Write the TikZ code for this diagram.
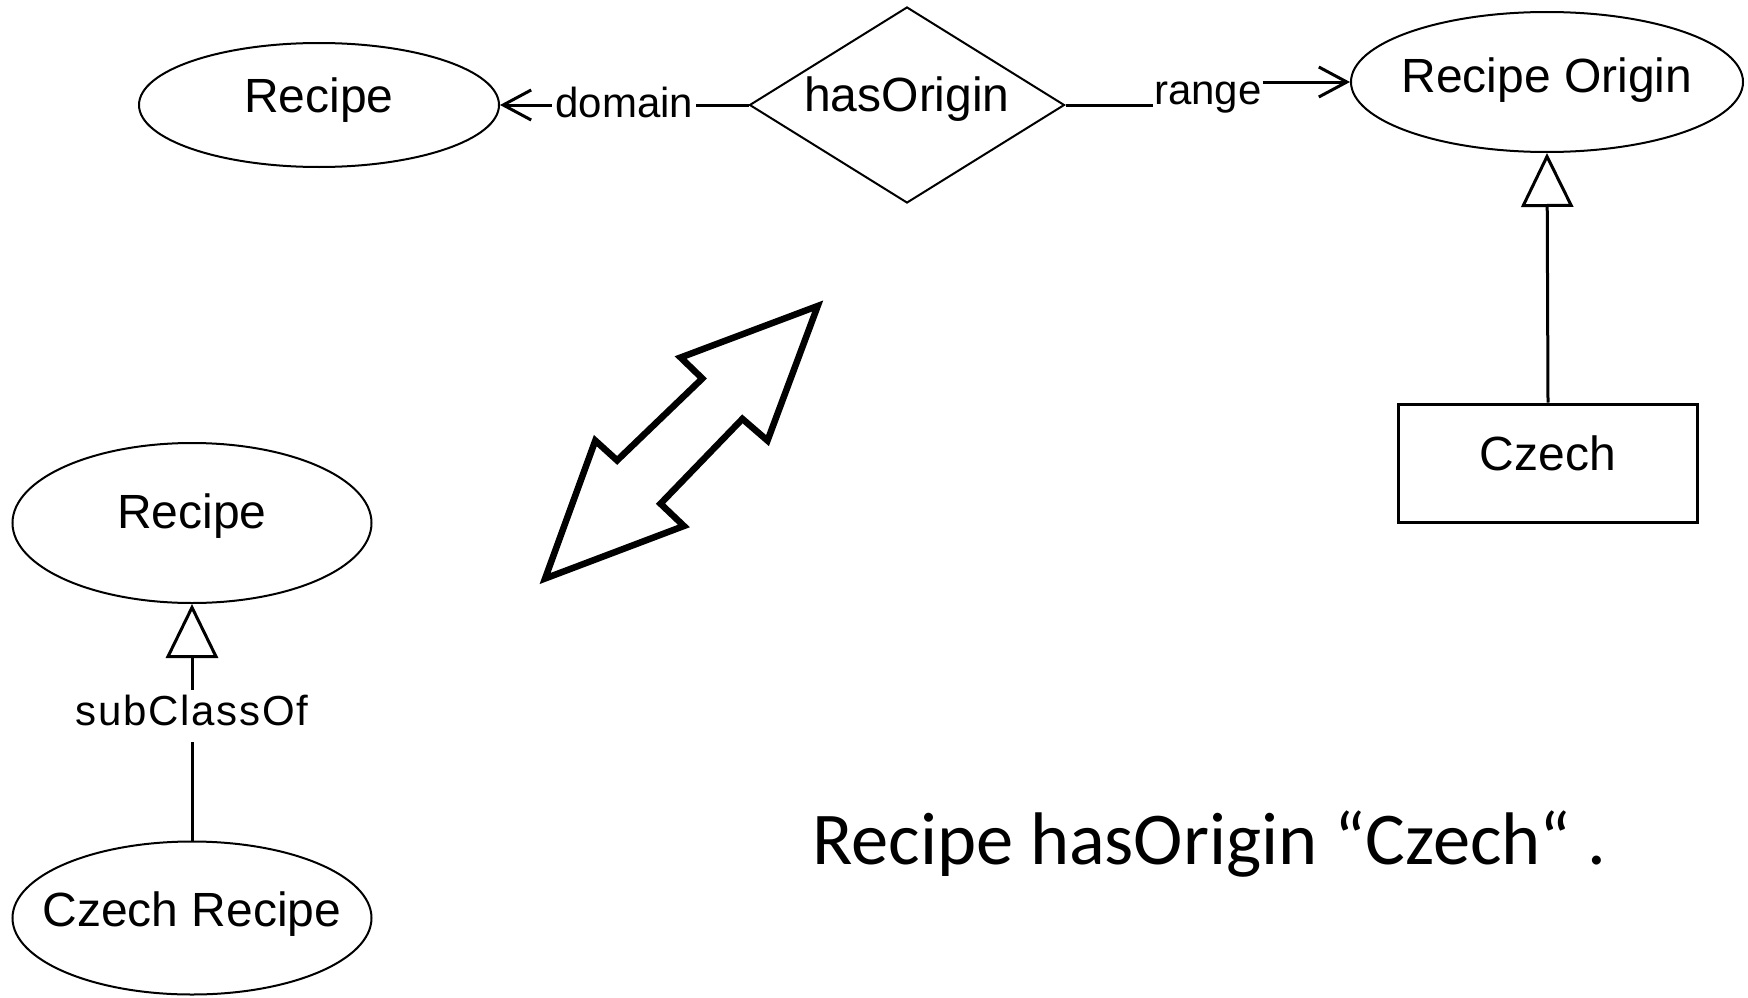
\documentclass[tikz,border=0pt]{standalone}
\usepackage{fontspec}
\setmainfont{Liberation Sans}
\newfontfamily\calibrifont{Carlito}
\newfontfamily\spacedsans[LetterSpace=4]{Liberation Sans}
\usetikzlibrary{shapes.geometric,arrows.meta}
\begin{document}
\begin{tikzpicture}[x=1pt,y=-1pt,
  % the node size comes from minimum width/height only
  cls/.style={ellipse, draw, line width=2pt, inner xsep=-120pt, inner ysep=0pt,
    font=\fontsize{48}{56}\selectfont},
  prop/.style={diamond, draw, line width=2pt, inner xsep=-100pt, inner ysep=-20pt,
    minimum width=315pt, minimum height=196pt,
    font=\fontsize{48}{56}\selectfont, text depth=22pt},
  inst/.style={rectangle, draw, line width=3pt, inner sep=0pt,
    minimum width=299pt, minimum height=118pt,
    font=\fontsize{48}{56}\selectfont, text depth=20pt},
  edgelbl/.style={fill=white, inner sep=3pt, font=\fontsize{42}{50}\selectfont},
  conn/.style={line width=3pt},
  barb/.style={-{Straight Barb[length=28pt,width=30pt]}},
  isa/.style={-{Triangle[open,length=54pt,width=52pt,fill=white]}},
  swap/.style={line width=6.5pt, line join=miter, miter limit=20},
  stmtfont/.style={font=\calibrifont\fontsize{74.5}{80}\selectfont},
]
\useasboundingbox (0,0) rectangle (1748,998);

% property with its domain and range
\node[cls, minimum width=360pt, minimum height=124pt, text depth=20pt] (rec1) at (319,105) {Recipe};
\node[prop] (hasorig) at (907,105) {hasOrigin};
\node[cls, minimum width=392pt, minimum height=140pt, text depth=14pt] (ro) at (1547,82) {Recipe Origin};
\node[inst] (czech) at (1548,463) {Czech};

\draw[conn, barb] (hasorig.west) -- (rec1.east)
  node[edgelbl, midway, yshift=3pt] (dom) {domain};
\node[edgelbl, fill=none, inner sep=1pt] (rng) at (1208,98) {range};
\draw[conn] (hasorig.east) -- (rng.west |- hasorig.east);
\draw[conn, barb] (rng.east |- ro.west) -- (ro.west);
\draw[conn, isa] (czech.north) -- (ro.south);

% class hierarchy
\node[cls, minimum width=359pt, minimum height=160pt, text depth=23pt] (rec2) at (192,523) {Recipe};
\node[cls, minimum width=359pt, minimum height=153pt, text depth=18pt] (czr) at (192,918) {Czech Recipe};
\draw[conn, isa] (czr.north) -- (rec2.south)
  node[edgelbl, pos=0.5, yshift=6pt, inner xsep=1pt, inner ysep=5pt, text depth=12pt,
    font=\spacedsans\fontsize{42}{50}\selectfont] (sub) {subClassOf};

% two-way arrow between the two views
\draw[swap] (817.7,306) -- (680.6,357.5) -- (702.3,378.5) -- (617.1,460.4)
  -- (595.3,440.6) -- (545.1,578.5) -- (683.9,526) -- (660.5,503.7)
  -- (742.4,418.9) -- (767.5,440.6) -- cycle;

% statement
\node[stmtfont, anchor=base west, inner sep=0pt] (stmt) at (812,864)
  {Recipe hasOrigin “Czech“ .};
\end{tikzpicture}
\end{document}
